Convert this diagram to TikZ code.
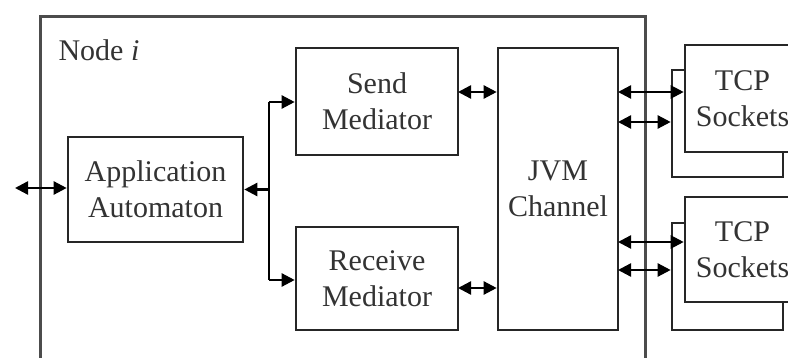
\documentclass[tikz,border=0pt]{standalone}
\usepackage{fontspec}
\setmainfont{Liberation Serif}
\usetikzlibrary{arrows.meta}
\tikzset{
  blk/.style={draw=black!85, line width=2.6pt, fill=white, align=center, inner sep=0pt,
    font=\fontsize{30}{36}\selectfont, text=black!80},
  frm/.style={draw=black!70, line width=3pt},
  con/.style={line width=2.4pt, black},
  tip/.tip={Triangle[length=13pt,width=13pt]},
  dbl/.style={con, tip-tip},
  one/.style={con, -tip},
}
\begin{document}
\begin{tikzpicture}[x=1pt,y=-1pt]
\useasboundingbox (0,0) rectangle (788,358);
\clip (0,0) rectangle (788,358);
\draw[frm] (40,17) rectangle (645,380);
\node[anchor=west, font=\fontsize{30}{36}\selectfont, text=black!80] (lbl) at (55,50) {Node \textit{i}};
\node[blk, minimum width=175pt, minimum height=105pt] (app) at (155.5,189.5) {Application\\Automaton};
\node[blk, minimum width=162pt, minimum height=107pt] (send) at (377,101.5) {Send\\Mediator};
\node[blk, minimum width=162pt, minimum height=103pt] (recv) at (377,278.5) {Receive\\Mediator};
\node[blk, minimum width=120pt, minimum height=282pt] (jvm) at (558,189) {JVM\\Channel};
\node[blk, minimum width=111pt, minimum height=107pt] (back1) at (727.5,123.5) {};
\node[blk, minimum width=115pt, minimum height=107pt] (tcp1) at (742.5,98.5) {TCP\\Sockets};
\node[blk, minimum width=111pt, minimum height=107pt] (back2) at (727.5,276.5) {};
\node[blk, minimum width=115pt, minimum height=105pt] (tcp2) at (742.5,249.5) {TCP\\Sockets};
% external
\coordinate (ext) at (15,188);
\draw[dbl] (ext) -- (ext -| app.west);
% bus
\coordinate (bt) at (269,102);
\coordinate (bb) at (269,280);
\draw[con] (bt) -- (bb);
\draw[con, tip-] (app.east) -- (app.east -| bt);
\draw[one] (bt) -- (bt -| send.west);
\draw[one] (bb) -- (bb -| recv.west);
% mediators to JVM
\coordinate (s1) at (458,92);
\coordinate (r1) at (458,288);
\draw[dbl] (s1) -- (s1 -| jvm.west);
\draw[dbl] (r1) -- (r1 -| jvm.west);
% JVM to TCP
\coordinate (t1) at (618,92);
\coordinate (t2) at (618,122);
\coordinate (t3) at (618,242);
\coordinate (t4) at (618,270);
\draw[dbl] (t1) -- (t1 -| tcp1.west);
\draw[dbl] (t2) -- (t2 -| back1.west);
\draw[dbl] (t3) -- (t3 -| tcp2.west);
\draw[dbl] (t4) -- (t4 -| back2.west);
\end{tikzpicture}
\end{document}
